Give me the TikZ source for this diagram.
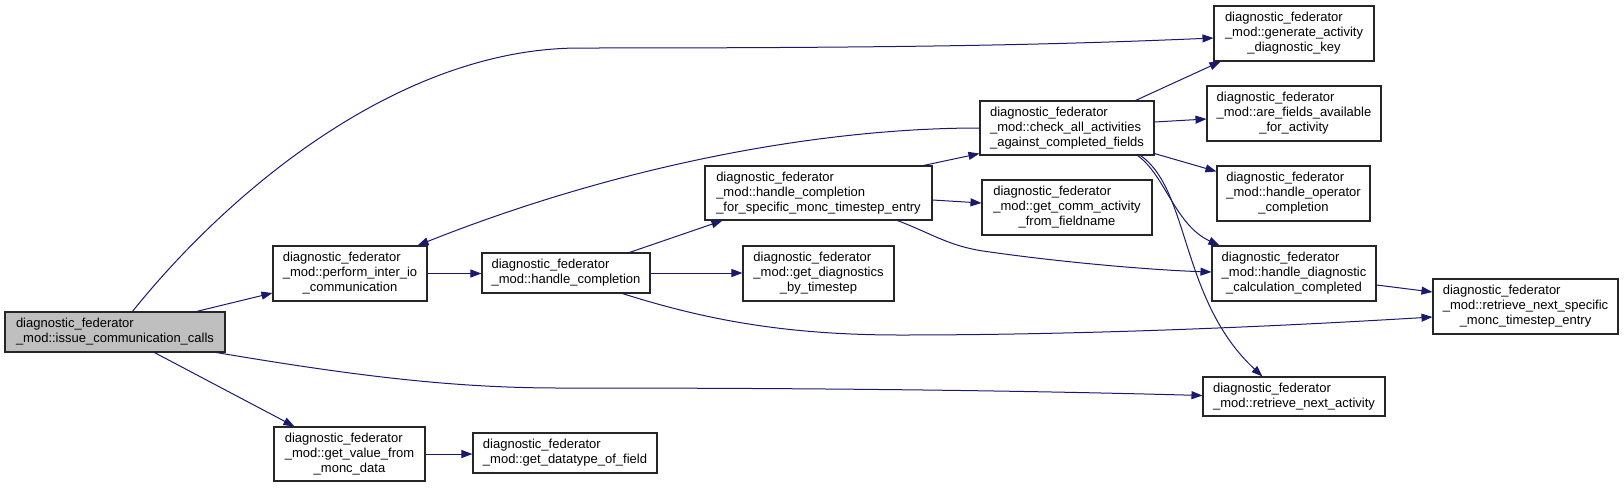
\documentclass[tikz,border=0pt]{standalone}
\usepackage{fontspec}
\setmainfont{Liberation Sans}
\usetikzlibrary{arrows.meta}
\definecolor{edgeblue}{HTML}{191970}
\definecolor{rootgray}{HTML}{BFBFBF}
\newcommand{\dtwo}[2]{\begin{tabular}{@{}l@{}}#1\\\multicolumn{1}{@{}c@{}}{#2}\end{tabular}}
\newcommand{\dthree}[3]{\begin{tabular}{@{}l@{}}#1\\#2\\\multicolumn{1}{@{}c@{}}{#3}\end{tabular}}
\tikzset{
  fn/.style={draw=black!85, line width=1.1pt, fill=white, rectangle, inner sep=0pt,
    font=\fontsize{13}{15}\selectfont},
  rootfn/.style={fn, fill=rootgray},
  edge/.style={draw=edgeblue, line width=1pt, -{Triangle[length=11pt,width=8pt]}}
}
\begin{document}
\begin{tikzpicture}[x=1pt,y=-1pt]
\useasboundingbox (0,0) rectangle (1624,488);
% nodes
\node[rootfn, minimum width=220pt, minimum height=40pt] (issue) at (115,332)
  {\dtwo{diagnostic\_federator}{\_mod::issue\_communication\_calls}};
\node[fn, minimum width=154pt, minimum height=55pt] (perform) at (350,273.5)
  {\dthree{diagnostic\_federator}{\_mod::perform\_inter\_io}{\_communication}};
\node[fn, minimum width=168pt, minimum height=40pt] (hc) at (566,273)
  {\dtwo{diagnostic\_federator}{\_mod::handle\_completion}};
\node[fn, minimum width=151pt, minimum height=54pt] (getvalue) at (349.5,454)
  {\dthree{diagnostic\_federator}{\_mod::get\_value\_from}{\_monc\_data}};
\node[fn, minimum width=184pt, minimum height=40pt] (getdt) at (565,453)
  {\dtwo{diagnostic\_federator}{\_mod::get\_datatype\_of\_field}};
\node[fn, minimum width=227pt, minimum height=54pt] (hcfs) at (818.5,193)
  {\dthree{diagnostic\_federator}{\_mod::handle\_completion}{\_for\_specific\_monc\_timestep\_entry}};
\node[fn, minimum width=151pt, minimum height=55pt] (getdiag) at (818.5,273.5)
  {\dthree{diagnostic\_federator}{\_mod::get\_diagnostics}{\_by\_timestep}};
\node[fn, minimum width=174pt, minimum height=54pt] (checkall) at (1067,128)
  {\dthree{diagnostic\_federator}{\_mod::check\_all\_activities}{\_against\_completed\_fields}};
\node[fn, minimum width=170pt, minimum height=55pt] (getcomm) at (1067,207.5)
  {\dthree{diagnostic\_federator}{\_mod::get\_comm\_activity}{\_from\_fieldname}};
\node[fn, minimum width=160pt, minimum height=55pt] (generate) at (1294,33.5)
  {\dthree{diagnostic\_federator}{\_mod::generate\_activity}{\_diagnostic\_key}};
\node[fn, minimum width=174pt, minimum height=55pt] (arefields) at (1294,113.5)
  {\dthree{diagnostic\_federator}{\_mod::are\_fields\_available}{\_for\_activity}};
\node[fn, minimum width=153pt, minimum height=55pt] (hop) at (1293.5,193.5)
  {\dthree{diagnostic\_federator}{\_mod::handle\_operator}{\_completion}};
\node[fn, minimum width=164pt, minimum height=55pt] (hdiag) at (1294,273.5)
  {\dthree{diagnostic\_federator}{\_mod::handle\_diagnostic}{\_calculation\_completed}};
\node[fn, minimum width=185pt, minimum height=55pt] (rns) at (1525.5,306.5)
  {\dthree{diagnostic\_federator}{\_mod::retrieve\_next\_specific}{\_monc\_timestep\_entry}};
\node[fn, minimum width=182pt, minimum height=39pt] (rna) at (1294,396.5)
  {\dtwo{diagnostic\_federator}{\_mod::retrieve\_next\_activity}};
% edges
\draw[edge] ([xshift=128pt]issue.north west) .. controls (230,190) and (400,48) .. (580,48)
  .. controls (900,48) and (1050,45) .. ([yshift=-4.5pt]generate.west);
\draw[edge] ([xshift=192pt]issue.north west) -- ([yshift=-19.5pt]perform.west);
\draw[edge] ([xshift=150pt]issue.south west) -- ([xshift=21pt]getvalue.north west);
\draw[edge] ([xshift=212pt]issue.south west) .. controls (350,375) and (450,388) .. (560,388)
  .. controls (800,388) and (1000,390) .. ([yshift=1pt]rna.west);
\draw[edge] (perform.east) -- (perform.east -| hc.west);
\draw[edge] (checkall.west) .. controls (820,128) and (620,165) .. ([xshift=-10pt]perform.north east);
\draw[edge] ([xshift=148pt]hc.north west) -- ([xshift=18pt]hcfs.south west);
\draw[edge] (hc.east) -- (hc.east -| getdiag.west);
\draw[edge] ([xshift=141pt]hc.south west) .. controls (700,318) and (780,335) .. (900,335)
  .. controls (1100,335) and (1300,325) .. ([yshift=-10.5pt]rns.west);
\draw[edge] ([xshift=-9pt]hcfs.north east) -- ([yshift=2pt]checkall.south west);
\draw[edge] ([yshift=-7pt]hcfs.east) -- ([yshift=4.5pt]getcomm.west);
\draw[edge] ([xshift=-35pt]hcfs.south east) .. controls (935,235) and (950,247) .. (990,252)
  .. controls (1060,262) and (1150,270) .. ([yshift=1.5pt]hdiag.west);
\draw[edge] ([xshift=-19pt]checkall.north east) -- ([xshift=7pt]generate.south west);
\draw[edge] ([yshift=6pt]checkall.east) -- ([yshift=-5.5pt]arefields.west);
\draw[edge] ([yshift=2pt]checkall.south east) -- ([yshift=-6pt]hop.north west);
\draw[edge] ([xshift=-17pt]checkall.south east) .. controls (1165,175) and (1175,225) .. ([xshift=8pt]hdiag.north west);
\draw[edge] ([xshift=-14pt]checkall.south east) .. controls (1190,190) and (1180,300) .. ([xshift=60pt]rna.north west);
\draw[edge] ([yshift=-11.5pt]hdiag.east) -- ([yshift=14.5pt]rns.west);
\draw[edge] (getvalue.east) -- (getvalue.east -| getdt.west);
\end{tikzpicture}
\end{document}
